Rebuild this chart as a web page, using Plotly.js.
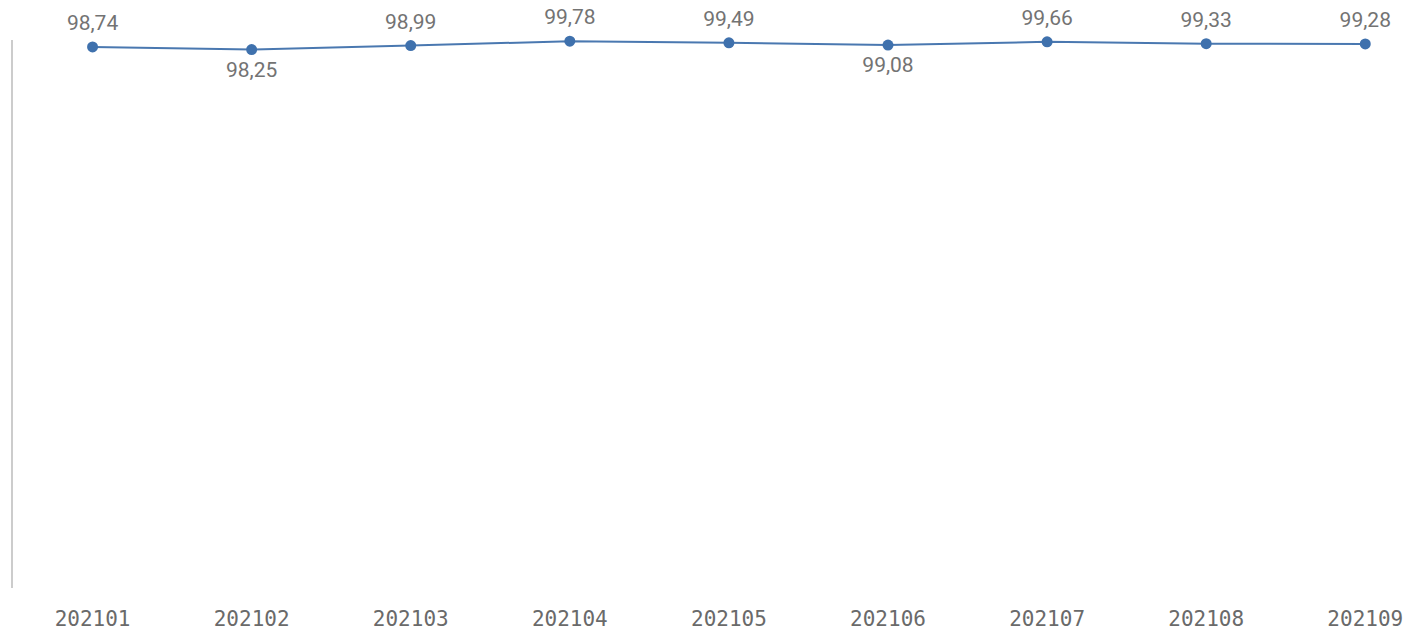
<!DOCTYPE html>
<html>
<head>
<meta charset="utf-8">
<script src="https://cdn.plot.ly/plotly-3.0.1.min.js"></script>
<style>html,body{margin:0;padding:0;background:#fff;}#chart{width:1413px;height:634px;}</style>
</head>
<body>
<div id="chart"></div>
<script>
const categories = ["202101","202102","202103","202104","202105","202106","202107","202108","202109"];
const values = [98.74, 98.25, 98.99, 99.78, 99.49, 99.08, 99.66, 99.33, 99.28];
const labelPositions = ["top center","bottom center","top center","top center","top center","bottom center","top center","top center","top center"];

const lineTrace = {
  x: categories,
  y: values,
  type: 'scatter',
  mode: 'lines+markers',
  line: {color: '#4a78b0', width: 2},
  marker: {color: '#3f71ad', size: 11},
  hoverinfo: 'x+y',
  cliponaxis: false
};

const labelTrace = {
  x: categories,
  y: values,
  type: 'scatter',
  mode: 'markers+text',
  text: values.map(v => v.toFixed(2).replace('.', ',')),
  textposition: labelPositions,
  textfont: {family: 'Roboto, "DejaVu Sans", sans-serif', size: 21, color: '#737373'},
  marker: {size: 17, opacity: 0, color: '#3f71ad'},
  hoverinfo: 'skip',
  cliponaxis: false
};

const layout = {
  width: 1413, height: 634,
  margin: {l: 13, r: 0, t: 40, b: 46},
  paper_bgcolor: '#fff', plot_bgcolor: '#fff',
  showlegend: false,
  separators: ',.',
  xaxis: {
    type: 'category',
    range: [-0.5, 8.3],
    showgrid: false, zeroline: false, showline: false,
    ticks: '', ticklabelstandoff: 16,
    tickfont: {family: '"DejaVu Sans Mono", monospace', size: 21, color: '#6a6a6a'}
  },
  yaxis: {
    range: [0, 100],
    showgrid: false, zeroline: false,
    showline: true, linecolor: '#cccccc', linewidth: 2,
    showticklabels: false, ticks: ''
  }
};

Plotly.newPlot('chart', [lineTrace, labelTrace], layout, {displayModeBar: false, staticPlot: true});
</script>
</body>
</html>
